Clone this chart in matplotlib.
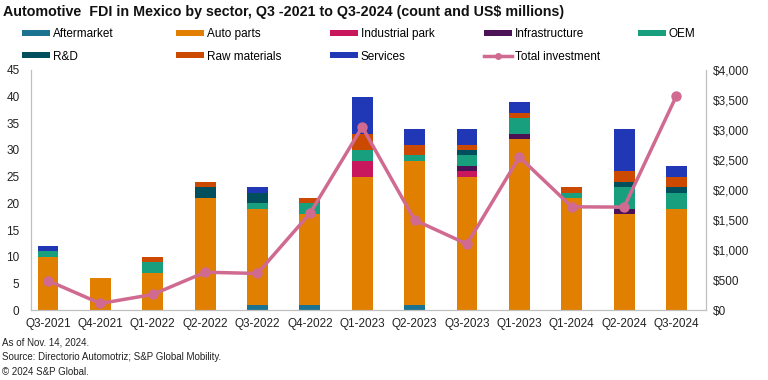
import matplotlib
matplotlib.use("Agg")
import matplotlib.pyplot as plt
import numpy as np
from matplotlib.patches import Patch
from matplotlib.lines import Line2D

plt.rcParams['font.family'] = ['Liberation Sans', 'DejaVu Sans']

quarters = ["Q3-2021", "Q4-2021", "Q1-2022", "Q2-2022", "Q3-2022", "Q4-2022", "Q1-2023",
            "Q2-2023", "Q3-2023", "Q1-2023", "Q1-2024", "Q2-2024", "Q3-2024"]

aftermarket    = [0, 0, 0, 0, 1, 1, 0, 1, 0, 0, 0, 0, 0]
auto_parts     = [10, 6, 7, 21, 18, 17, 25, 27, 25, 32, 21, 18, 19]
industrial     = [0, 0, 0, 0, 0, 0, 3, 0, 1, 0, 0, 0, 0]
infrastructure = [0, 0, 0, 0, 0, 0, 0, 0, 1, 1, 0, 1, 0]
oem            = [1, 0, 2, 0, 1, 2, 2, 1, 2, 3, 1, 4, 3]
rnd            = [0, 0, 0, 2, 2, 0, 0, 0, 1, 0, 0, 1, 1]
raw_materials  = [0, 0, 1, 1, 0, 1, 3, 2, 1, 1, 1, 2, 2]
services       = [1, 0, 0, 0, 1, 0, 7, 3, 3, 2, 0, 8, 2]
total_investment = [490, 110, 260, 630, 610, 1610, 3050, 1500, 1100, 2550, 1720, 1715, 3570]

series = [
    ("Aftermarket", aftermarket, "#1b7291"),
    ("Auto parts", auto_parts, "#e07f00"),
    ("Industrial park", industrial, "#c8175c"),
    ("Infrastructure", infrastructure, "#4b1356"),
    ("OEM", oem, "#18a07e"),
    ("R&D", rnd, "#004f5c"),
    ("Raw materials", raw_materials, "#cc4a00"),
    ("Services", services, "#2038b5"),
]
line_color = "#d06a90"

fig = plt.figure(figsize=(7.68, 3.8), dpi=100)
ax = fig.add_axes([0.040, 0.184, 0.879, 0.632])
ax2 = ax.twinx()

x = np.arange(len(quarters))
bottom = np.zeros(len(quarters))
handles = {}
for name, vals, col in series:
    v = np.array(vals, dtype=float)
    ax.bar(x, v, 0.4, bottom=bottom, color=col, linewidth=0)
    bottom += v
    handles[name] = Patch(facecolor=col)

ax2.plot(x, total_investment, color=line_color, lw=2.5, marker='o', ms=6.5, zorder=5)
handles["Total investment"] = Line2D([0], [0], color=line_color, lw=2.5, marker='o', ms=4)

ax.set_xlim(-0.33, 12.56)
ax.set_ylim(0, 45)
ax.set_yticks(range(0, 46, 5))
ax2.set_ylim(0, 4000)
ax2.set_yticks(range(0, 4001, 500))
ax2.set_yticklabels([f"${v:,}" for v in range(0, 4001, 500)])
ax.set_xticks(x)
ax.set_xticklabels(quarters)

for a in (ax, ax2):
    a.tick_params(length=0, labelsize=8.5, colors="#222222")
    a.spines['top'].set_visible(False)
    for s in ('left', 'right', 'bottom'):
        a.spines[s].set_color("#bfbfbf")
ax.tick_params(axis='y', pad=8)
ax2.tick_params(axis='y', pad=5)
ax.tick_params(axis='x', pad=6)

columns = [["Aftermarket", "R&D"], ["Auto parts", "Raw materials"],
           ["Industrial park", "Services"], ["Infrastructure", "Total investment"], ["OEM"]]
for i, names in enumerate(columns):
    fig.legend([handles[n] for n in names], names, loc='upper left',
               bbox_to_anchor=((22 + 154 * i) / 768, 0.926), frameon=False, fontsize=8.5,
               handlelength=2.4, handleheight=0.42, handletextpad=0.2,
               labelspacing=0.88, borderaxespad=0, borderpad=0)

fig.text(0.004, 0.988, "Automotive  FDI in Mexico by sector, Q3 -2021 to Q3-2024 (count and US$ millions)",
         fontsize=10.3, fontweight='bold', va='top', ha='left', color="#111111")

fig.text(0.002, 0.098, "As of Nov. 14, 2024.", fontsize=7, va='center', color="#222222")
fig.text(0.002, 0.060, "Source: Directorio Automotriz; S&P Global Mobility.", fontsize=7, va='center', color="#222222")
fig.text(0.002, 0.022, "\u00a9 2024 S&P Global.", fontsize=7, va='center', color="#222222")

fig.savefig("out.png", dpi=100)
